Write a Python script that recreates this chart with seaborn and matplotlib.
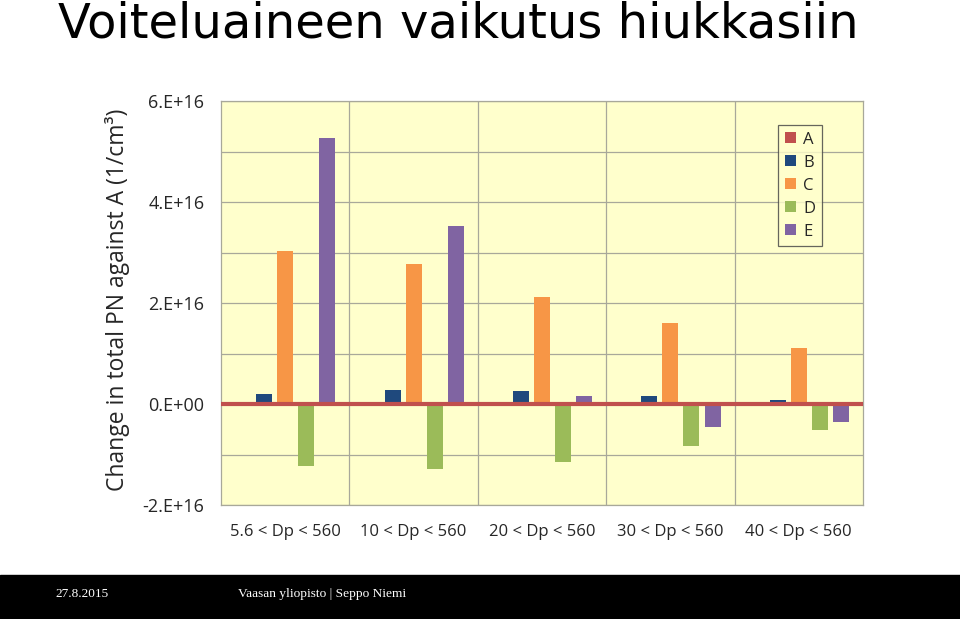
import matplotlib
matplotlib.use("Agg")
import matplotlib.pyplot as plt
import seaborn as sns
import pandas as pd
import numpy as np
from matplotlib.ticker import FixedLocator, MultipleLocator

categories = ["5.6 < Dp < 560", "10 < Dp < 560", "20 < Dp < 560", "30 < Dp < 560", "40 < Dp < 560"]
series = ["A", "B", "C", "D", "E"]
vals_A = [0.0, 0.0, 0.0, 0.0, 0.0]
vals_B = [0.19e16, 0.27e16, 0.26e16, 0.16e16, 0.08e16]
vals_C = [3.03e16, 2.78e16, 2.12e16, 1.61e16, 1.10e16]
vals_D = [-1.23e16, -1.29e16, -1.14e16, -0.83e16, -0.52e16]
vals_E = [5.27e16, 3.52e16, 0.15e16, -0.46e16, -0.35e16]
ytick_vals = [-2e16, 0, 2e16, 4e16, 6e16]
ytick_labels = ["-2.E+16", "0.E+00", "2.E+16", "4.E+16", "6.E+16"]
colors = ["#C0504D", "#1F497D", "#F79646", "#9BBB59", "#8064A2"]

rows = []
for s, v in zip(series, [vals_A, vals_B, vals_C, vals_D, vals_E]):
    for c, x in zip(categories, v):
        rows.append({"cat": c, "series": s, "value": x})
df = pd.DataFrame(rows)

sns.set_style("white")
plt.rcParams["font.family"] = ["Open Sans", "DejaVu Sans"]

fig = plt.figure(figsize=(9.6, 6.19), dpi=100)
ax = fig.add_axes([221/960, 1-505/619, 642/960, 404/619])
ax.set_facecolor("#FFFFCC")

sns.barplot(data=df, x="cat", y="value", hue="series", order=categories,
            hue_order=series, palette=colors, width=0.82, gap=0.24,
            saturation=1, errorbar=None, ax=ax, zorder=3, linewidth=0)

ax.set_xlim(-0.5, 4.5)
ax.set_ylim(-2e16, 6e16)
ax.yaxis.set_major_locator(FixedLocator(ytick_vals))
ax.set_yticklabels(ytick_labels)
ax.yaxis.set_minor_locator(MultipleLocator(1e16))
ax.xaxis.set_minor_locator(FixedLocator([0.5, 1.5, 2.5, 3.5]))
gridc = "#A8A89A"
ax.grid(True, which="both", axis="y", color=gridc, lw=0.9, zorder=1)
ax.grid(True, which="minor", axis="x", color=gridc, lw=0.9, zorder=1)
ax.set_axisbelow(True)
for sp in ax.spines.values():
    sp.set_color(gridc)
    sp.set_linewidth(0.9)
ax.tick_params(axis="y", which="both", length=3, color=gridc, labelsize=13, pad=9)
ax.tick_params(axis="x", which="both", length=0, labelsize=12, pad=14)
ax.set_xlabel("")
ax.set_ylabel("")
fig.text(117/960, 1-300/619, "Change in total PN against A (1/cm³)", fontsize=16.5,
         rotation=90, ha="center", va="center")

ax.axhline(0, color=colors[0], lw=3, zorder=4)

handles, labels = ax.get_legend_handles_labels()
leg = ax.legend(handles, labels, loc="upper right", bbox_to_anchor=(0.936, 0.9406),
                borderaxespad=0, fontsize=12, handlelength=0.65, handleheight=0.65,
                handletextpad=0.45, labelspacing=0.42, frameon=True, fancybox=False,
                borderpad=0.4)
leg.get_frame().set_edgecolor("#404040")
leg.get_frame().set_facecolor("#FFFFCC")
leg.get_frame().set_linewidth(0.9)

fig.text(58/960, 1-37/619, "Voiteluaineen vaikutus hiukkasiin", fontsize=34.6,
         va="baseline", ha="left", color="black", family=["DejaVu Sans"])

fig.patches.append(plt.Rectangle((0, 0), 1, 44/619, transform=fig.transFigure,
                                 color="black", zorder=0))
fig.text(55/960, 1-594/619, "27.8.2015", fontsize=9.5, color="white",
         family=["Liberation Serif", "DejaVu Serif"], va="center", ha="left")
fig.text(238/960, 1-594/619, "Vaasan yliopisto | Seppo Niemi", fontsize=9.6,
         color="white", family=["Liberation Serif", "DejaVu Serif"], va="center", ha="left")

fig.savefig("out.png", dpi=100)
